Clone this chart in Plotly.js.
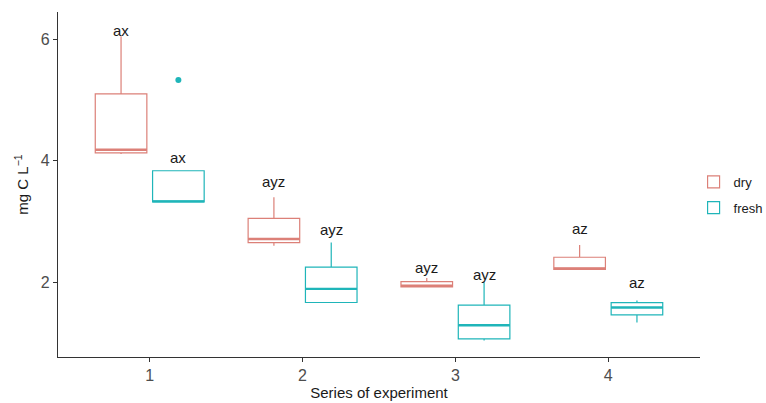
<!DOCTYPE html>
<html><head><meta charset="utf-8">
<script src="https://cdn.plot.ly/plotly-3.0.1.min.js"></script>
<style>html,body{margin:0;padding:0;background:#fff}#chart{width:766px;height:403px}</style>
</head><body><div id="chart"></div>
<script>
// Data
const series = [1, 2, 3, 4];
const dryMin    = [4.11, 2.60, 1.91, 2.21];
const dryQ1     = [4.13, 2.65, 1.92, 2.21];
const dryMedian = [4.18, 2.71, 1.94, 2.225];
const dryQ3     = [5.10, 3.05, 2.01, 2.41];
const dryMax    = [6.05, 3.40, 2.07, 2.61];
const freshMin    = [3.32, 1.66, 1.04, 1.335];
const freshQ1     = [3.32, 1.665, 1.067, 1.462];
const freshMedian = [3.33, 1.89, 1.29, 1.582];
const freshQ3     = [3.835, 2.247, 1.621, 1.664];
const freshMax    = [3.835, 2.652, 2.00, 1.697];
const freshOutlierSeries = [1];
const freshOutlierValue = [5.33];
const dryLabels = ['ax', 'ayz', 'ayz', 'az'];
const dryLabelY = [6.15, 3.65, 2.24, 2.88];
const freshLabels = ['ax', 'ayz', 'ayz', 'az'];
const freshLabelY = [4.06, 2.86, 2.12, 1.99];

const dryColor = '#DC8078';
const freshColor = '#1FB5B9';
const font = '"Liberation Sans", Arial, sans-serif';
const offset = 0.1875;
const halfW = 0.16875;

function boxTrace(name, q1, med, q3, lo, hi, color) {
  return {
    type: 'box', name: name, legendgroup: name, x: series,
    q1: q1, median: med, q3: q3, lowerfence: lo, upperfence: hi,
    line: {color: color, width: 1.2}, fillcolor: 'rgba(255,255,255,0)',
    whiskerwidth: 0, boxpoints: false, hoverinfo: 'skip'
  };
}
function medianTrace(med, sign, color) {
  const xs = [], ys = [];
  series.forEach((s, i) => {
    const c = s + sign * offset;
    xs.push(c - halfW, c + halfW, null);
    ys.push(med[i], med[i], null);
  });
  return {type: 'scatter', mode: 'lines', x: xs, y: ys, showlegend: false,
    line: {color: color, width: 2.4}, hoverinfo: 'skip'};
}

const traces = [
  boxTrace('dry', dryQ1, dryMedian, dryQ3, dryMin, dryMax, dryColor),
  boxTrace('fresh', freshQ1, freshMedian, freshQ3, freshMin, freshMax, freshColor),
  medianTrace(dryMedian, -1, dryColor),
  medianTrace(freshMedian, 1, freshColor),
  {type: 'scatter', mode: 'markers', x: freshOutlierSeries.map(s => s + offset), y: freshOutlierValue,
   marker: {color: freshColor, size: 6}, showlegend: false, hoverinfo: 'skip'}
];

const annotations = [];
series.forEach((s, i) => {
  annotations.push({x: s - offset, y: dryLabelY[i], text: dryLabels[i], showarrow: false,
    xref: 'x', yref: 'y', font: {family: font, size: 15, color: '#1a1a1a'}});
  annotations.push({x: s + offset, y: freshLabelY[i], text: freshLabels[i], showarrow: false,
    xref: 'x', yref: 'y', font: {family: font, size: 15, color: '#1a1a1a'}});
});

const layout = {
  width: 766, height: 403,
  margin: {l: 58, r: 66, t: 12, b: 46, autoexpand: false},
  paper_bgcolor: '#fff', plot_bgcolor: '#fff',
  boxmode: 'group', boxgap: 0.25, boxgroupgap: 0.1,
  font: {family: font},
  xaxis: {
    range: [0.4, 4.6], tickvals: series, ticktext: series.map(String),
    showgrid: false, zeroline: false, showline: true, linecolor: '#333', linewidth: 1.2,
    ticks: 'outside', ticklen: 4, tickcolor: '#333', tickwidth: 1.2,
    tickfont: {size: 16, color: '#4d4d4d'},
    title: {text: 'Series of experiment', font: {size: 15, color: '#1a1a1a'}, standoff: 4}
  },
  yaxis: {
    range: [0.767, 6.45], tickvals: [2, 4, 6],
    showgrid: false, zeroline: false, showline: true, linecolor: '#333', linewidth: 1.2,
    ticks: 'outside', ticklen: 4, tickcolor: '#333', tickwidth: 1.2,
    tickfont: {size: 16, color: '#4d4d4d'},
    title: {text: 'mg C L<sup>−1</sup>', font: {size: 15, color: '#1a1a1a'}, standoff: 8}
  },
  legend: {x: 0.99, xanchor: 'left', y: 0.47, yanchor: 'middle',
    font: {size: 13, color: '#1a1a1a'}, tracegroupgap: 6, bgcolor: 'rgba(0,0,0,0)'},
  annotations: annotations
};

Plotly.newPlot('chart', traces, layout, {displayModeBar: false, staticPlot: true});
</script></body></html>
